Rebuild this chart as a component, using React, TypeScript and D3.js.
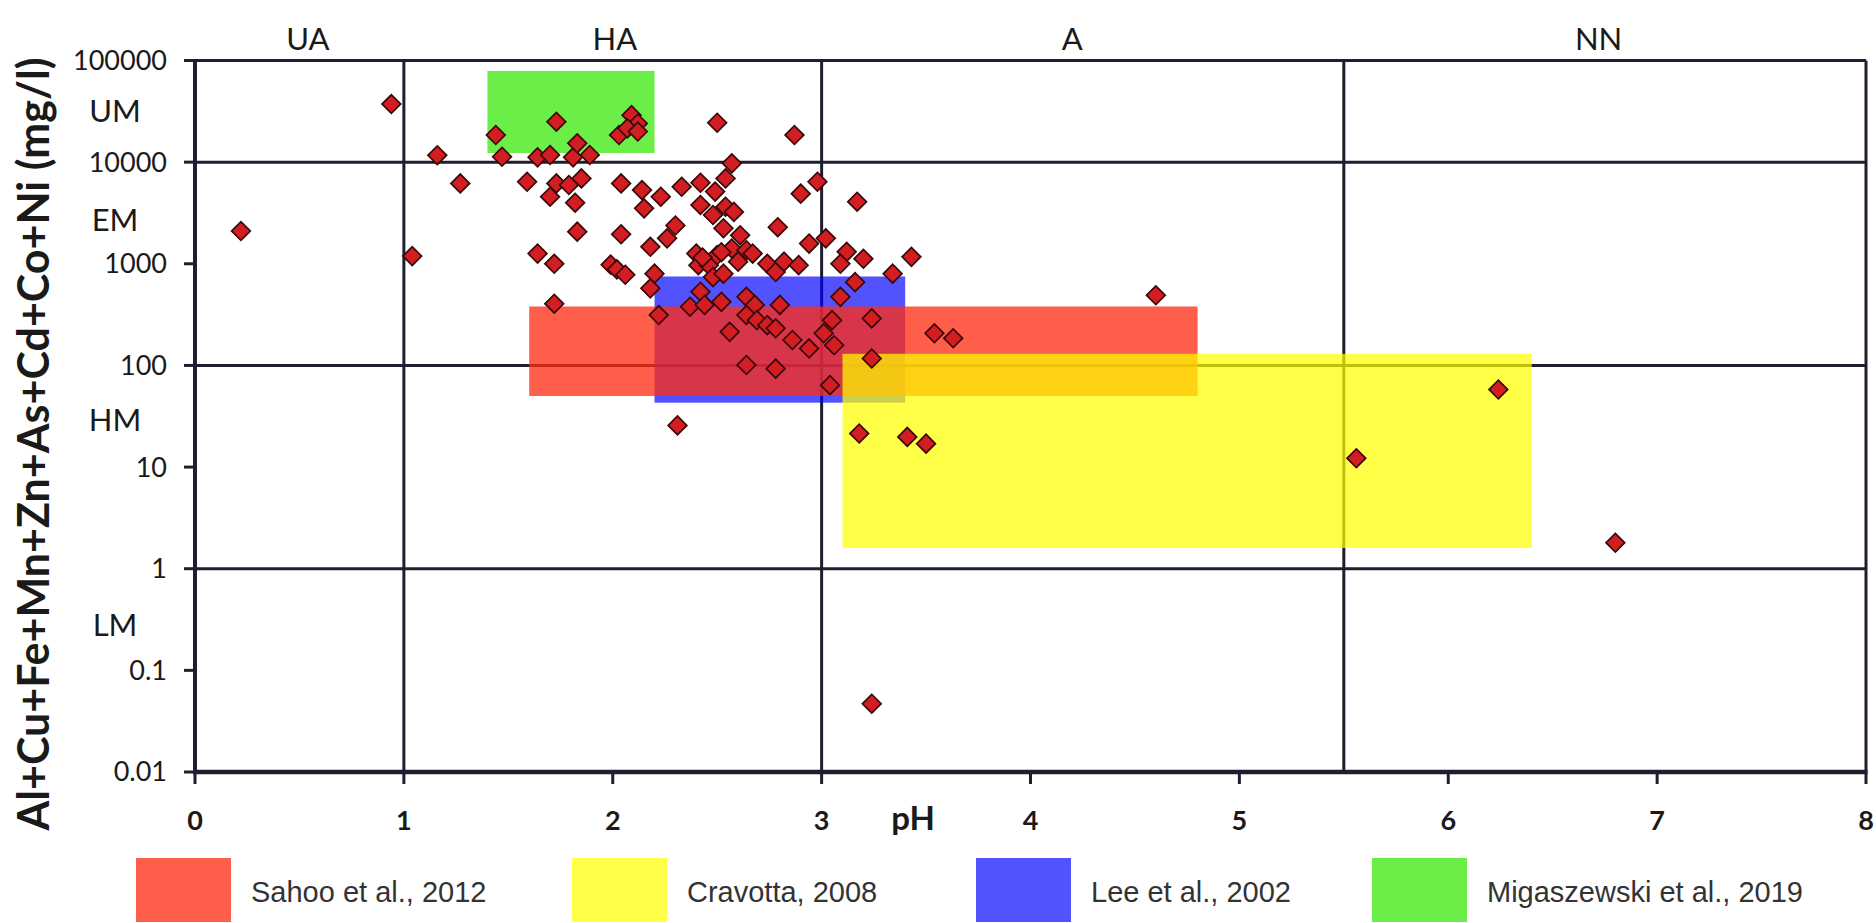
import React from "react";
import * as d3 from "d3";

// ---------- data ----------
const phValues = [
  0.22, 0.94, 1.04, 1.16, 1.27, 1.44, 1.47, 1.73, 1.64, 1.70,
  1.81, 1.83, 1.89, 2.03, 2.09, 2.12, 2.07, 2.12, 1.59, 1.73,
  1.70, 1.79, 1.85, 1.82, 1.83, 2.04, 2.04, 1.64, 1.72, 1.99,
  2.02, 2.06, 1.72, 2.57, 2.54, 2.14, 2.23, 2.15, 2.33, 2.42,
  2.49, 2.42, 2.48, 2.54, 2.58, 2.53, 2.61, 2.98, 2.90, 2.79,
  2.30, 2.26, 2.18, 2.20, 2.18, 2.22, 2.40, 2.41, 2.46, 2.50,
  2.48, 2.53, 2.57, 2.64, 2.67, 2.74, 2.78, 2.82, 2.89, 2.94,
  3.02, 3.17, 3.12, 3.09, 3.16, 3.09, 2.42, 2.37, 2.44, 2.52,
  2.64, 2.68, 2.80, 2.64, 2.69, 2.74, 2.78, 2.56, 2.86, 2.94,
  3.05, 3.01, 3.06, 2.64, 2.78, 3.24, 3.04, 3.24, 3.54, 3.63,
  2.31, 3.18, 3.41, 3.50, 3.43, 3.34, 3.20, 2.50, 2.87, 4.60,
  6.24, 5.56, 6.80, 3.24, 2.43, 2.52, 2.60
];
const metalValues = [
  2100, 37300, 1190, 11700, 6180, 18500, 11300, 25000, 11150, 11750,
  11150, 15300, 11750, 18500, 29000, 24000, 21500, 20000, 6410, 6180,
  4570, 5960, 6920, 3990, 2070, 6180, 1950, 1260, 1000, 980,
  880, 780, 405, 9730, 6920, 5310, 4570, 3510, 5730, 6270,
  5130, 3790, 3020, 3640, 3240, 2240, 1910, 6410, 4900, 2290,
  2380, 1780, 1470, 800, 573, 313, 1260, 970, 970, 1220,
  740, 800, 1410, 1360, 1260, 1000, 830, 1050, 970, 1580,
  1780, 4080, 1310, 1000, 660, 473, 531, 378, 394, 422,
  473, 394, 394, 313, 279, 249, 232, 214, 178, 147,
  279, 207, 158, 101, 93, 290, 64, 117, 207, 185,
  25.7, 21.4, 19.8, 17, 1170, 800, 1120, 24400, 18500, 490,
  58, 12.2, 1.8, 0.047, 1150, 1300, 1050
];

const rangeNames = ["Lee et al., 2002", "Sahoo et al., 2012", "Cravotta, 2008", "Migaszewski et al., 2019"];
const rangePhMin = [2.2, 1.6, 3.1, 1.4];
const rangePhMax = [3.4, 4.8, 6.4, 2.2];
const rangeMin = [43, 50, 1.6, 12300];
const rangeMax = [750, 380, 130, 79000];
const rangeColors = ["rgb(0,0,255)", "rgb(255,45,20)", "rgb(255,255,0)", "rgb(108,238,72)"];
const rangeOpacity = [0.68, 0.77, 0.72, 1];

const legendOrder = [1, 2, 0, 3];

const xTicks = [0, 1, 2, 3, 4, 5, 6, 7, 8];
const yTicks = [0.01, 0.1, 1, 10, 100, 1000, 10000, 100000];
const yTickLabels = ["0.01", "0.1", "1", "10", "100", "1000", "10000", "100000"];
const gridPh = [1, 3, 5.5];
const gridValues = [1, 100, 10000];

const topZoneLabels = ["UA", "HA", "A", "NN"];
const topZonePh = [0.54, 2.01, 4.2, 6.72];
const sideZoneLabels = ["UM", "EM", "HM", "LM"];
const sideZoneValues = [31600, 2700, 29, 0.28];

const yTitle = "Al+Cu+Fe+Mn+Zn+As+Cd+Co+Ni (mg/l)";
const xTitle = "pH";

// ---------- chart ----------
export default function App() {
  const W = 1876;
  const H = 923;
  const x = d3.scaleLinear().domain([0, 8]).range([195, 1866]);
  const y = d3.scaleLog().domain([0.01, 100000]).range([772, 60.5]);
  const lineColor = "#1e1e30";
  const tickFont = "Lato, 'Open Sans', sans-serif";
  const diamond = d3.symbol().type(d3.symbolSquare).size(175)() as string;

  const legendSwatchX = [136, 572, 976, 1372];

  return (
    <svg
      width={W}
      height={H}
      style={{ position: "absolute", left: 0, top: 0, background: "#fff" }}
    >
      <rect x={0} y={0} width={W} height={H} fill="#fff" />

      {/* grid lines */}
      {gridPh.map((p) => (
        <line key={"gx" + p} x1={x(p)} x2={x(p)} y1={y(100000)} y2={y(0.01)} stroke={lineColor} strokeWidth={3} />
      ))}
      {gridValues.map((v) => (
        <line key={"gy" + v} x1={x(0)} x2={x(8)} y1={y(v)} y2={y(v)} stroke={lineColor} strokeWidth={3} />
      ))}
      {/* frame */}
      <line x1={x(0)} x2={x(8)} y1={y(100000)} y2={y(100000)} stroke={lineColor} strokeWidth={3} />
      <line x1={x(8)} x2={x(8)} y1={y(100000)} y2={y(0.01)} stroke={lineColor} strokeWidth={3} />
      <line x1={x(0)} x2={x(0)} y1={y(100000) - 1.5} y2={y(0.01)} stroke={lineColor} strokeWidth={4} />
      <line x1={x(0) - 2} x2={x(8) + 1.5} y1={y(0.01)} y2={y(0.01)} stroke={lineColor} strokeWidth={4.5} />

      {/* y ticks */}
      {yTicks.map((v, i) => (
        <g key={"yt" + v}>
          <line x1={x(0) - 11} x2={x(0)} y1={y(v)} y2={y(v)} stroke={lineColor} strokeWidth={3} />
          <text
            x={167}
            y={y(v)}
            dy="0.35em"
            textAnchor="end"
            fontFamily={tickFont}
            fontSize={27}
            fill="#1a1a1a"
          >
            {yTickLabels[i]}
          </text>
        </g>
      ))}
      {/* x ticks */}
      {xTicks.map((t) => (
        <g key={"xt" + t}>
          <line x1={x(t)} x2={x(t)} y1={y(0.01)} y2={y(0.01) + 12} stroke={lineColor} strokeWidth={3} />
          <text
            x={x(t)}
            y={830}
            textAnchor="middle"
            fontFamily={tickFont}
            fontWeight="bold"
            fontSize={27}
            fill="#1a1a1a"
          >
            {t}
          </text>
        </g>
      ))}

      {/* reference ranges */}
      {rangeNames.map((n, i) => (
        <rect
          key={"r" + n}
          x={x(rangePhMin[i])}
          width={x(rangePhMax[i]) - x(rangePhMin[i])}
          y={y(rangeMax[i])}
          height={y(rangeMin[i]) - y(rangeMax[i])}
          fill={rangeColors[i]}
          fillOpacity={rangeOpacity[i]}
        />
      ))}

      {/* points */}
      {phValues.map((p, i) => (
        <path
          key={"p" + i}
          d={diamond}
          transform={`translate(${x(p)},${y(metalValues[i])}) rotate(45)`}
          fill="#d21e22"
          stroke="#3a0808"
          strokeWidth={1.7}
        />
      ))}

      {/* zone labels */}
      {topZoneLabels.map((l, i) => (
        <text
          key={"tz" + l}
          x={x(topZonePh[i])}
          y={50}
          textAnchor="middle"
          fontFamily={tickFont}
          fontSize={31}
          fill="#1a1a1a"
        >
          {l}
        </text>
      ))}
      {sideZoneLabels.map((l, i) => (
        <text
          key={"sz" + l}
          x={115}
          y={y(sideZoneValues[i])}
          dy="0.35em"
          textAnchor="middle"
          fontFamily={tickFont}
          fontSize={31}
          fill="#1a1a1a"
        >
          {l}
        </text>
      ))}

      {/* axis titles */}
      <text
        transform={`translate(49,444) rotate(-90)`}
        textAnchor="middle"
        fontFamily={tickFont}
        fontWeight="bold"
        fontSize={43}
        fill="#1a1a1a"
      >
        {yTitle}
      </text>
      <text
        x={913}
        y={830}
        textAnchor="middle"
        fontFamily={tickFont}
        fontWeight="bold"
        fontSize={33}
        fill="#1a1a1a"
      >
        {xTitle}
      </text>

      {/* legend */}
      {legendOrder.map((ri, k) => (
        <g key={"lg" + ri}>
          <rect
            x={legendSwatchX[k]}
            y={858}
            width={95}
            height={64}
            fill={rangeColors[ri]}
            fillOpacity={rangeOpacity[ri]}
          />
          <text
            x={legendSwatchX[k] + 115}
            y={902}
            fontFamily="'Liberation Sans', Arial, sans-serif"
            fontSize={29}
            fill="#333"
          >
            {rangeNames[ri]}
          </text>
        </g>
      ))}
    </svg>
  );
}
